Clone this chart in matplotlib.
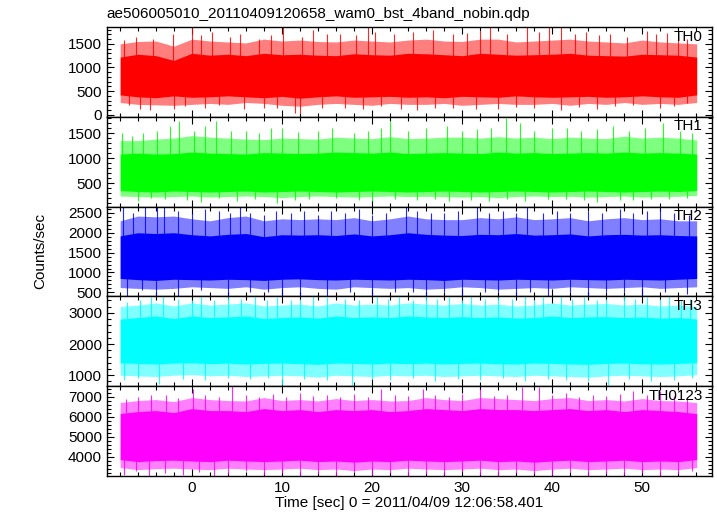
import numpy as np
import matplotlib
matplotlib.use("Agg")
import matplotlib.pyplot as plt
from matplotlib.ticker import MultipleLocator

plt.rcParams['font.family'] = ['Liberation Sans', 'DejaVu Sans']

# time grid of the envelope readings (sec, 2 s steps), light curve spans -7.96 .. 56.04
t = [-7.96, -6, -4, -2, 0, 2, 4, 6, 8, 10, 12, 14, 16, 18, 20, 22, 24, 26, 28,
     30, 32, 34, 36, 38, 40, 42, 44, 46, 48, 50, 52, 54, 56.04]

labels = ["TH0", "TH1", "TH2", "TH3", "TH0123"]
colors = ["#ff0000", "#00ff00", "#0000ff", "#00ffff", "#ff00ff"]
base = [800, 700, 1350, 2100, 5000]   # rough mean level of each band

# edge of the spiky fringe around the band (counts/sec)
th0_hi = [1500, 1550, 1560, 1450, 1600, 1560, 1540, 1520, 1600, 1560, 1580, 1550, 1540, 1580, 1560, 1540, 1580,
          1600, 1560, 1550, 1600, 1600, 1540, 1560, 1580, 1600, 1560, 1540, 1520, 1580, 1540, 1520, 1500]
th0_lo = [260, 220, 210, 200, 220, 240, 220, 260, 240, 200, 180, 220, 240, 220, 200, 240, 220,
          220, 240, 200, 220, 240, 220, 220, 240, 200, 240, 220, 260, 220, 240, 220, 260]
th1_hi = [1350, 1350, 1380, 1400, 1450, 1420, 1400, 1380, 1370, 1400, 1390, 1380, 1420, 1400, 1390, 1430, 1390,
          1400, 1420, 1420, 1400, 1430, 1400, 1420, 1390, 1420, 1400, 1390, 1440, 1400, 1420, 1400, 1360]
th1_lo = [240, 230, 220, 230, 240, 220, 230, 240, 230, 210, 230, 240, 230, 220, 230, 240, 230,
          235, 230, 220, 230, 210, 230, 240, 230, 235, 220, 230, 240, 220, 230, 235, 250]
th2_hi = [2300, 2420, 2400, 2420, 2350, 2300, 2380, 2420, 2300, 2350, 2330, 2350, 2330, 2380, 2300, 2350, 2420,
          2350, 2330, 2330, 2380, 2350, 2400, 2330, 2350, 2380, 2300, 2350, 2380, 2330, 2350, 2300, 2300]
th2_lo = [620, 600, 580, 600, 640, 620, 600, 640, 580, 620, 640, 600, 580, 640, 620, 600, 620,
          580, 600, 640, 620, 580, 600, 620, 600, 640, 620, 600, 620, 640, 600, 620, 640]
th3_hi = [3200, 3250, 3320, 3220, 3320, 3250, 3280, 3320, 3220, 3250, 3280, 3220, 3320, 3250, 3280, 3250, 3320,
          3280, 3250, 3300, 3250, 3280, 3220, 3250, 3320, 3250, 3280, 3300, 3250, 3280, 3220, 3250, 3200]
th3_lo = [1000, 980, 960, 1000, 1020, 980, 1000, 960, 980, 1000, 980, 940, 1000, 980, 960, 1000, 980,
          1000, 960, 980, 1000, 980, 960, 1000, 980, 960, 940, 980, 1000, 980, 960, 980, 1020]
sum_hi = [6700, 6800, 6850, 6750, 6950, 6850, 6800, 6780, 6950, 6800, 6850, 6780, 6900, 6800, 6850, 6780, 6800,
          6950, 6850, 6800, 6950, 6900, 6850, 6800, 6900, 6950, 6800, 6850, 6780, 6900, 6800, 6780, 6700]
sum_lo = [3450, 3350, 3400, 3420, 3380, 3350, 3420, 3380, 3350, 3380, 3420, 3350, 3380, 3300, 3380, 3350, 3420,
          3380, 3350, 3380, 3420, 3350, 3380, 3300, 3380, 3420, 3350, 3380, 3420, 3350, 3380, 3350, 3450]

# dense core of the band (where the trace is solid)
th0_core = ([420, 380, 360, 400, 370, 380, 400, 380, 360, 390, 350, 380, 400, 370, 380, 390, 370,
             380, 360, 390, 380, 370, 400, 380, 370, 380, 390, 370, 380, 400, 380, 370, 420],
            [1220, 1280, 1250, 1150, 1300, 1260, 1280, 1250, 1300, 1270, 1280, 1260, 1250, 1290, 1270, 1260, 1300,
             1290, 1270, 1250, 1300, 1280, 1260, 1270, 1280, 1300, 1260, 1250, 1240, 1280, 1270, 1260, 1220])
th1_core = ([350, 330, 320, 340, 330, 320, 330, 340, 320, 330, 340, 330, 320, 330, 340, 330, 320,
             330, 340, 330, 320, 330, 340, 330, 320, 330, 340, 330, 320, 330, 340, 330, 350],
            [1080, 1100, 1080, 1090, 1120, 1100, 1090, 1080, 1110, 1100, 1090, 1100, 1120, 1110, 1100, 1120, 1090,
             1100, 1110, 1100, 1090, 1120, 1100, 1110, 1090, 1100, 1110, 1100, 1120, 1100, 1110, 1100, 1080])
th2_core = ([850, 820, 800, 830, 820, 810, 830, 820, 800, 830, 840, 820, 810, 830, 820, 810, 830,
             820, 800, 830, 820, 810, 830, 820, 810, 830, 820, 810, 830, 820, 810, 830, 850],
            [1920, 2000, 1980, 2000, 1950, 1920, 1960, 1980, 1900, 1950, 1940, 1950, 1930, 1970, 1920, 1950, 2000,
             1960, 1940, 1930, 1960, 1950, 1980, 1940, 1950, 1970, 1920, 1950, 1960, 1940, 1950, 1930, 1920])
th3_core = ([1400, 1380, 1360, 1390, 1400, 1370, 1390, 1360, 1380, 1390, 1370, 1350, 1390, 1380, 1360, 1390, 1370,
             1390, 1360, 1380, 1390, 1370, 1360, 1390, 1380, 1360, 1350, 1380, 1390, 1370, 1360, 1380, 1400],
            [2800, 2850, 2900, 2820, 2900, 2850, 2870, 2900, 2820, 2850, 2870, 2830, 2900, 2850, 2870, 2850, 2900,
             2870, 2850, 2880, 2850, 2870, 2830, 2850, 2900, 2850, 2870, 2880, 2850, 2870, 2830, 2850, 2800])
sum_core = ([3850, 3750, 3800, 3820, 3780, 3750, 3820, 3780, 3750, 3780, 3820, 3750, 3780, 3720, 3780, 3750, 3820,
             3780, 3750, 3780, 3820, 3750, 3780, 3720, 3780, 3820, 3750, 3780, 3820, 3750, 3780, 3750, 3850],
            [6150, 6250, 6300, 6200, 6400, 6300, 6300, 6250, 6400, 6300, 6350, 6250, 6350, 6300, 6350, 6250, 6300,
             6400, 6350, 6300, 6400, 6350, 6350, 6300, 6350, 6400, 6300, 6350, 6250, 6350, 6300, 6250, 6150])

# individual spikes: (times, peak values)
th0_up = ([-7.5, -6.2, -4.3, -2.1, 0.07, 1.0, 2.2, 4.2, 5.3, 7.5, 8.8, 10.1, 12.2, 13.5, 15.0, 16.5, 18.2, 19.6, 20.3,
           22.4, 24.6, 26.8, 29.0, 30.5, 32.0, 33.1, 35.0, 37.2, 38.5, 39.7, 41.0, 42.5, 43.8, 45.2, 46.4, 48.3,
           50.5, 51.5, 52.7, 54.0, 55.0],
          [1580, 1650, 1600, 1700, 1860, 1680, 1760, 1650, 1700, 1600, 1680, 1860, 1650, 1800, 1700, 1700, 1680,
           1860, 1750, 1700, 1750, 1800, 1700, 1720, 1780, 1860, 1700, 1860, 1750, 1860, 1860, 1700, 1750, 1680,
           1700, 1650, 1780, 1700, 1720, 1650, 1600])
th0_dn = ([-7.0, -5.8, -4.6, -2.0, -0.8, 1.5, 3.0, 5.8, 8.0, 9.4, 11.5, 12.0, 14.5, 17.0, 19.0, 21.0, 23.2, 25.0,
           27.0, 29.0, 31.5, 34.0, 36.0, 38.0, 41.0, 43.0, 45.0, 47.0, 49.0, 52.0, 53.5, 55.0],
          [200, 120, 100, 130, 180, 150, 200, 120, 150, 140, 30, 40, 150, 150, 120, 180, 130, 100, 150, 150, 120,
           120, 170, 150, 100, 160, 130, 180, 200, 150, 180, 250])
th1_up = ([-7.8, -6.6, -5.4, -3.9, -2.4, -1.4, 0.2, 1.5, 2.7, 4.3, 6.0, 7.5, 8.8, 10.0, 11.8, 14.0, 15.6, 18.0, 19.5,
           21.0, 22.0, 24.0, 26.0, 28.3, 30.0, 31.6, 33.2, 34.9, 36.4, 38.0, 40.0, 41.6, 43.2, 45.0, 46.8, 48.5,
           50.3, 52.3, 54.2, 55.5],
          [1500, 1450, 1500, 1550, 1650, 1750, 1550, 1650, 1750, 1550, 1550, 1500, 1600, 1600, 1520, 1550, 1600,
           1500, 1550, 1600, 1750, 1550, 1600, 1650, 1550, 1580, 1600, 1800, 1700, 1550, 1600, 1600, 1550, 1580,
           1650, 1550, 1600, 1700, 1550, 1500])
th1_dn = ([-6.0, -4.5, -3.0, -0.5, 1.0, 3.0, 5.0, 7.0, 9.5, 11.5, 13.0, 16.0, 18.5, 20.0, 22.5, 25.0, 27.0, 28.5,
           31.0, 33.0, 35.0, 37.0, 39.5, 41.5, 43.5, 45.0, 47.5, 49.0, 51.0, 53.0, 55.0],
          [150, 200, 180, 170, 130, 200, 150, 180, 100, 170, 180, 200, 160, 150, 190, 170, 180, 150, 170, 140,
           180, 150, 190, 180, 160, 120, 170, 160, 180, 190, 200])
th2_up = ([-7.6, -6.5, -5.2, -3.9, -3.1, -1.5, 0.0, 1.5, 3.0, 4.2, 5.3, 6.5, 8.0, 9.3, 11.0, 12.5, 14.0, 15.5, 17.0,
           18.5, 20.0, 21.5, 23.8, 25.0, 26.5, 28.0, 29.5, 31.6, 33.0, 34.5, 36.0, 37.2, 39.0, 40.5, 42.0, 44.0,
           45.5, 47.5, 49.0, 50.5, 52.0, 53.5, 55.2],
          [2660, 2500, 2660, 2660, 2660, 2550, 2500, 2600, 2550, 2500, 2660, 2500, 2450, 2550, 2500, 2550, 2450,
           2550, 2500, 2600, 2450, 2500, 2660, 2550, 2500, 2500, 2550, 2660, 2500, 2550, 2500, 2650, 2500, 2550,
           2500, 2550, 2500, 2600, 2500, 2550, 2600, 2500, 2450])
th2_dn = ([-7.2, -5.5, -4.0, -1.5, 1.0, 4.0, 6.5, 8.5, 10.0, 12.0, 15.0, 17.5, 20.0, 22.5, 24.5, 26.0, 28.0, 30.0,
           32.5, 34.0, 36.0, 37.5, 39.5, 42.0, 44.0, 46.0, 48.0, 50.0, 52.5, 55.0],
          [420, 550, 410, 420, 550, 420, 520, 500, 420, 430, 410, 500, 420, 520, 500, 420, 520, 420, 500, 520,
           420, 500, 410, 520, 420, 500, 520, 420, 500, 450])
th3_up = ([-7.2, -5.8, -4.5, -3.2, -1.5, 0.0, 1.0, 2.5, 4.0, 5.5, 7.0, 8.3, 9.5, 11.0, 12.0, 13.5, 15.0, 17.0, 18.5,
           20.5, 21.8, 23.0, 24.5, 26.0, 27.2, 28.5, 30.0, 31.0, 32.5, 34.0, 35.5, 37.0, 38.0, 39.0, 41.0, 42.2,
           43.5, 45.0, 46.0, 48.0, 49.2, 50.5, 52.0, 53.0, 54.3, 55.3],
          [3350, 3400, 3500, 3530, 3450, 3400, 3530, 3400, 3500, 3450, 3530, 3400, 3500, 3400, 3450, 3530, 3500,
           3450, 3400, 3530, 3450, 3500, 3400, 3530, 3450, 3500, 3400, 3530, 3450, 3500, 3450, 3530, 3400, 3500,
           3530, 3450, 3500, 3400, 3450, 3530, 3450, 3500, 3450, 3530, 3400, 3450])
th3_dn = ([-7.5, -6.0, -3.6, -1.0, 1.5, 4.0, 6.5, 8.5, 10.0, 12.5, 15.0, 17.8, 20.0, 22.0, 24.5, 27.0, 29.5, 32.0,
           34.5, 37.0, 39.5, 41.5, 44.0, 46.2, 48.5, 51.0, 53.5, 55.5],
          [850, 900, 720, 880, 850, 900, 880, 900, 700, 880, 850, 700, 880, 850, 900, 820, 880, 850, 900, 820,
           880, 850, 800, 700, 880, 820, 850, 900])
sum_up = ([-7.3, -6.0, -4.5, -2.9, -1.5, 0.1, 1.5, 3.0, 4.5, 6.0, 7.5, 9.0, 10.5, 12.0, 13.5, 15.0, 16.5, 18.0,
           19.5, 21.0, 22.5, 24.0, 25.7, 27.0, 28.5, 30.0, 32.0, 33.5, 35.0, 36.6, 38.5, 40.0, 41.5, 43.0, 44.5,
           46.0, 47.5, 49.0, 50.5, 52.0, 53.5, 55.0],
          [6900, 7000, 7100, 7100, 6950, 7370, 7100, 7000, 7540, 7100, 7000, 7150, 7000, 7200, 7050, 7100, 7000,
           7150, 7000, 7370, 7100, 7050, 7370, 7100, 7000, 7150, 7370, 7050, 7100, 7500, 7500, 7100, 7200, 7000,
           7100, 7050, 7150, 7300, 7100, 7300, 7050, 7000])
sum_dn = ([-7.5, -6.2, -4.8, -3.0, -1.0, 0.8, 2.5, 4.0, 6.0, 8.0, 10.0, 12.0, 14.0, 16.0, 18.0, 20.0, 22.0, 24.0,
           26.0, 28.0, 30.0, 32.0, 34.0, 36.0, 38.0, 40.0, 42.0, 44.0, 46.0, 48.0, 50.0, 52.0, 54.0, 55.5],
          [3100, 3300, 3050, 3200, 3100, 3250, 3050, 3150, 3300, 3100, 3200, 3050, 3150, 3050, 3250, 3100, 3200,
           3050, 3150, 3100, 3250, 3100, 3050, 3200, 3150, 3100, 3250, 3050, 3150, 3100, 3200, 3050, 3150, 3300])

hi_all = [th0_hi, th1_hi, th2_hi, th3_hi, sum_hi]
lo_all = [th0_lo, th1_lo, th2_lo, th3_lo, sum_lo]
core_all = [th0_core, th1_core, th2_core, th3_core, sum_core]
up_all = [th0_up, th1_up, th2_up, th3_up, sum_up]
dn_all = [th0_dn, th1_dn, th2_dn, th3_dn, sum_dn]

ylims = [(-40, 1860), (30, 1830), (400, 2660), (650, 3530), (3030, 7520)]
major = [500, 500, 500, 1000, 1000]
minor = [100, 100, 100, 200, 200]

fig = plt.figure(figsize=(7.17, 5.16), dpi=100)
fig.subplots_adjust(left=0.149, right=0.993, top=0.948, bottom=0.0775, hspace=0)
axes = fig.subplots(5, 1, sharex=True)

for i, ax in enumerate(axes):
    c = colors[i]
    ax.fill_between(t, lo_all[i], hi_all[i], color=c, alpha=0.5, lw=0)
    ax.fill_between(t, core_all[i][0], core_all[i][1], color=c, lw=0)
    ax.vlines(up_all[i][0], base[i], up_all[i][1], color=c, lw=0.8, alpha=0.85)
    ax.vlines(dn_all[i][0], dn_all[i][1], base[i], color=c, lw=0.8, alpha=0.85)
    ax.set_ylim(*ylims[i])
    ax.set_xlim(-9.44, 57.74)
    ax.yaxis.set_major_locator(MultipleLocator(major[i]))
    ax.yaxis.set_minor_locator(MultipleLocator(minor[i]))
    ax.xaxis.set_major_locator(MultipleLocator(10))
    ax.xaxis.set_minor_locator(MultipleLocator(2))
    ax.tick_params(which='both', direction='in', top=True, right=True, labelsize=11, width=0.8)
    ax.tick_params(which='major', length=5)
    ax.tick_params(which='minor', length=3)
    for s in ax.spines.values():
        s.set_linewidth(1.0)
    ax.text(0.985, 0.97, labels[i], transform=ax.transAxes, ha='right', va='top', fontsize=11)

axes[-1].set_xlabel("Time [sec] 0 = 2011/04/09 12:06:58.401", fontsize=11, labelpad=1)
fig.text(0.056, 0.513, "Counts/sec", rotation=90, ha='center', va='center', fontsize=11)
fig.text(0.149, 0.973, "ae506005010_20110409120658_wam0_bst_4band_nobin.qdp", ha='left', va='center', fontsize=11)

fig.savefig("out.png", dpi=100)
